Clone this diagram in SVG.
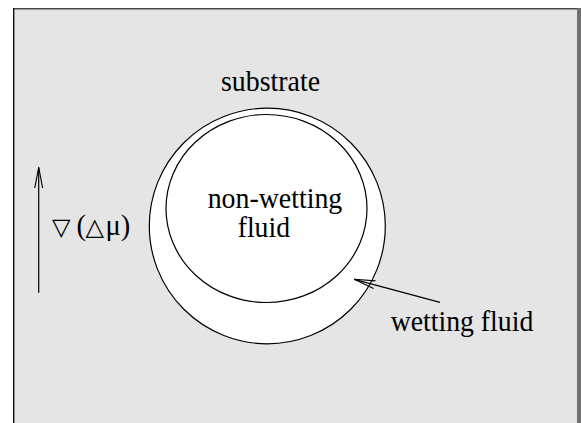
<svg xmlns="http://www.w3.org/2000/svg" width="581" height="423" viewBox="0 0 581 423">
<style>
.t{font-family:"Liberation Serif","Times New Roman",serif;font-size:28.5px;fill:#000}
.s{font-family:"DejaVu Sans",sans-serif;fill:#000}
.ln{stroke:#000;stroke-width:1.2;fill:none}
.sh{stroke:#000;stroke-width:1.2;fill:#fff}
</style>
<defs>
<marker id="ah" markerWidth="24" markerHeight="12" refX="21" refY="5" orient="auto" markerUnits="userSpaceOnUse" viewBox="0 0 24 10">
<path d="M0,1 L21,5 L0,9" fill="none" stroke="#000" stroke-width="1.1"/>
</marker>
</defs>
<rect x="0" y="0" width="581" height="423" fill="#fff"/>
<g id="frame">
<rect x="13" y="8" width="568" height="415" fill="#e5e5e5"/>
<line x1="13" y1="8.8" x2="578" y2="8.8" stroke="#4a4a4a" stroke-width="1.6"/>
<line x1="13.7" y1="8" x2="13.7" y2="423" stroke="#111" stroke-width="1.4"/>
<rect x="577" y="8" width="4" height="415" fill="#707070"/>
</g>
<g id="substrate">
<ellipse cx="267.3" cy="226" rx="118" ry="117.8" class="sh"/>
<text class="t" x="270.5" y="90.7" text-anchor="middle" textLength="99" lengthAdjust="spacingAndGlyphs">substrate</text>
</g>
<g id="non-wetting">
<ellipse cx="266.5" cy="208.5" rx="100.5" ry="94" class="sh"/>
<text class="t" x="207.7" y="207.7" textLength="134.6" lengthAdjust="spacingAndGlyphs">non-wetting</text>
<text class="t" x="237.7" y="236.7" textLength="52.3" lengthAdjust="spacingAndGlyphs">fluid</text>
</g>
<g id="wetting">
<text class="t" x="390.7" y="331" textLength="142.6" lengthAdjust="spacingAndGlyphs">wetting fluid</text>
</g>
<g id="gradient">
<text x="52" y="235"><tspan class="s" font-size="24">▽</tspan><tspan class="t" x="76.5">(</tspan><tspan class="s" x="85.5" font-size="24">△</tspan><tspan class="t" x="105.5">μ)</tspan></text>
</g>
<g id="connectors">
<line x1="38.7" y1="292.7" x2="38.7" y2="167.3" class="ln" marker-end="url(#ah)"/>
<line x1="440" y1="302.3" x2="354.3" y2="279.3" class="ln" marker-end="url(#ah)"/>
</g>
</svg>
